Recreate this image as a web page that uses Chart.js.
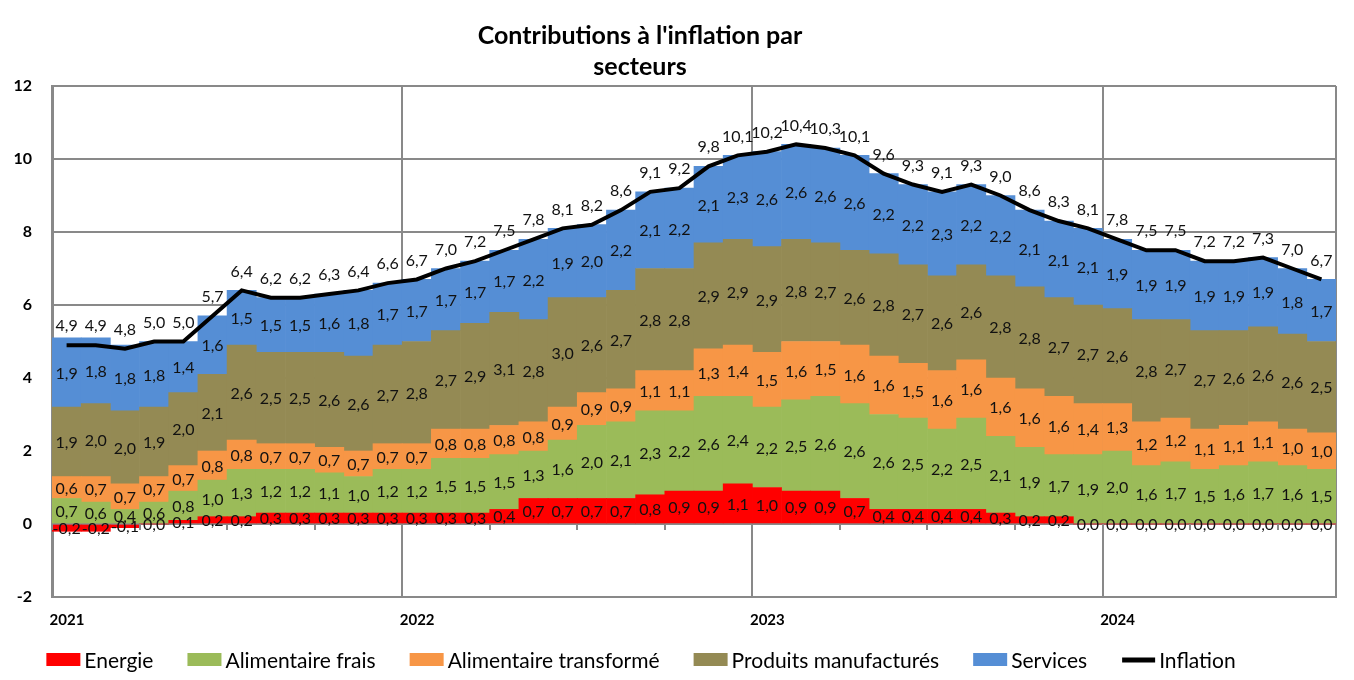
<!DOCTYPE html>
<html><head><meta charset="utf-8">
<script src="https://cdn.jsdelivr.net/npm/chart.js@4.4.1/dist/chart.umd.min.js"></script>
<style>html,body{margin:0;padding:0;background:#fff}#wrap{width:1354px;height:680px;position:relative}</style>
</head><body><div id="wrap"><canvas id="c" width="1354" height="680"></canvas></div>
<script>
const months = [
 '2021-01','2021-02','2021-03','2021-04','2021-05','2021-06','2021-07','2021-08','2021-09','2021-10','2021-11','2021-12',
 '2022-01','2022-02','2022-03','2022-04','2022-05','2022-06','2022-07','2022-08','2022-09','2022-10','2022-11','2022-12',
 '2023-01','2023-02','2023-03','2023-04','2023-05','2023-06','2023-07','2023-08','2023-09','2023-10','2023-11','2023-12',
 '2024-01','2024-02','2024-03','2024-04','2024-05','2024-06','2024-07','2024-08'];
const energie = [-0.2,-0.2,-0.1,0.0,0.1,0.2,0.2,0.3,0.3,0.3,0.3,0.3,
 0.3,0.3,0.3,0.4,0.7,0.7,0.7,0.7,0.8,0.9,0.9,1.1,
 1.0,0.9,0.9,0.7,0.4,0.4,0.4,0.4,0.3,0.2,0.2,0.0,
 0.0,0.0,0.0,0.0,0.0,0.0,0.0,0.0];
const alimFrais = [0.7,0.6,0.4,0.6,0.8,1.0,1.3,1.2,1.2,1.1,1.0,1.2,
 1.2,1.5,1.5,1.5,1.3,1.6,2.0,2.1,2.3,2.2,2.6,2.4,
 2.2,2.5,2.6,2.6,2.6,2.5,2.2,2.5,2.1,1.9,1.7,1.9,
 2.0,1.6,1.7,1.5,1.6,1.7,1.6,1.5];
const alimTransf = [0.6,0.7,0.7,0.7,0.7,0.8,0.8,0.7,0.7,0.7,0.7,0.7,
 0.7,0.8,0.8,0.8,0.8,0.9,0.9,0.9,1.1,1.1,1.3,1.4,
 1.5,1.6,1.5,1.6,1.6,1.5,1.6,1.6,1.6,1.6,1.6,1.4,
 1.3,1.2,1.2,1.1,1.1,1.1,1.0,1.0];
const produitsManuf = [1.9,2.0,2.0,1.9,2.0,2.1,2.6,2.5,2.5,2.6,2.6,2.7,
 2.8,2.7,2.9,3.1,2.8,3.0,2.6,2.7,2.8,2.8,2.9,2.9,
 2.9,2.8,2.7,2.6,2.8,2.7,2.6,2.6,2.8,2.8,2.7,2.7,
 2.6,2.8,2.7,2.7,2.6,2.6,2.6,2.5];
const services = [1.9,1.8,1.8,1.8,1.4,1.6,1.5,1.5,1.5,1.6,1.8,1.7,
 1.7,1.7,1.7,1.7,2.2,1.9,2.0,2.2,2.1,2.2,2.1,2.3,
 2.6,2.6,2.6,2.6,2.2,2.2,2.3,2.2,2.2,2.1,2.1,2.1,
 1.9,1.9,1.9,1.9,1.9,1.9,1.8,1.7];
const inflation = [4.9,4.9,4.8,5.0,5.0,5.7,6.4,6.2,6.2,6.3,6.4,6.6,
 6.7,7.0,7.2,7.5,7.8,8.1,8.2,8.6,9.1,9.2,9.8,10.1,
 10.2,10.4,10.3,10.1,9.6,9.3,9.1,9.3,9.0,8.6,8.3,8.1,
 7.8,7.5,7.5,7.2,7.2,7.3,7.0,6.7];
const yTicks = [-2,0,2,4,6,8,10,12];
const titleLines = ["Contributions à l'inflation par", "secteurs"];

const GRID = '#898989';
const FONT = 'Lato, "Open Sans", sans-serif';
const fmt = v => v.toFixed(1).replace('.', ',');

const labelsPlugin = {
  id: 'valueLabels',
  afterDatasetsDraw(chart) {
    const ctx = chart.ctx;
    ctx.save();
    ctx.font = '16px ' + FONT;
    ctx.fillStyle = '#111';
    ctx.textAlign = 'center';
    ctx.textBaseline = 'middle';
    chart.data.datasets.forEach((ds, di) => {
      const meta = chart.getDatasetMeta(di);
      meta.data.forEach((el, i) => {
        const v = ds.data[i];
        if (ds.type === 'line') {
          ctx.fillText(fmt(v), el.x, el.y - 19);
        } else {
          ctx.fillText(fmt(v), el.x, (el.y + el.base) / 2 + 1);
        }
      });
    });
    ctx.restore();
  }
};

const decoPlugin = {
  id: 'deco',
  afterDraw(chart) {
    const ctx = chart.ctx;
    const xs = chart.scales.x, ys = chart.scales.y;
    const n = chart.data.labels.length;
    const step = xs.width / n;
    const y0 = ys.getPixelForValue(0);
    ctx.save();
    // quarterly tick marks on the zero axis
    ctx.strokeStyle = GRID; ctx.lineWidth = 2;
    for (let i = 0; i <= n; i += 3) {
      const x = Math.round(xs.left + i * step);
      ctx.beginPath(); ctx.moveTo(x, y0); ctx.lineTo(x, y0 + 6); ctx.stroke();
    }
    // title
    ctx.fillStyle = '#000';
    ctx.textAlign = 'center'; ctx.textBaseline = 'middle';
    ctx.font = 'bold 25px ' + FONT;
    ctx.fillText(titleLines[0], 640, 36);
    ctx.fillText(titleLines[1], 640, 67);
    // legend
    ctx.font = '21px ' + FONT;
    const items = chart.data.datasets.slice().sort((a,b)=>a.legendIndex-b.legendIndex);
    const boxW = 34, gapIn = 4, gapOut = 34;
    let total = 0;
    items.forEach((d, k) => { total += boxW + gapIn + ctx.measureText(d.label).width + (k < items.length-1 ? gapOut : 0); });
    let x = 641 - total / 2;
    const ly = 660;
    ctx.textAlign = 'left';
    items.forEach(d => {
      if (d.type === 'line') {
        ctx.strokeStyle = '#000'; ctx.lineWidth = 5;
        ctx.beginPath(); ctx.moveTo(x + 1, ly); ctx.lineTo(x + boxW, ly); ctx.stroke();
      } else {
        ctx.fillStyle = d.backgroundColor;
        ctx.fillRect(x, ly - 7, boxW, 13);
      }
      x += boxW + gapIn;
      ctx.fillStyle = '#000';
      ctx.fillText(d.label, x, ly + 1);
      x += ctx.measureText(d.label).width + gapOut;
    });
    ctx.restore();
  }
};

const barDs = (label, data, color, li) => ({
  type: 'bar', label, data, backgroundColor: color, borderWidth: 0,
  barPercentage: 1, categoryPercentage: 1, stack: 's', order: 1, legendIndex: li
});

new Chart(document.getElementById('c'), {
  data: {
    labels: months,
    datasets: [
      barDs('Energie', energie, '#FF0000', 0),
      barDs('Alimentaire frais', alimFrais, '#9BBB59', 1),
      barDs('Alimentaire transformé', alimTransf, '#F79646', 2),
      barDs('Produits manufacturés', produitsManuf, '#948A54', 3),
      barDs('Services', services, '#558ED5', 4),
      { type: 'line', label: 'Inflation', data: inflation, borderColor: '#000', borderWidth: 4,
        pointRadius: 0, tension: 0, fill: false, order: 0, legendIndex: 5 }
    ]
  },
  options: {
    responsive: false, devicePixelRatio: 1, animation: false,
    layout: { padding: { left: 0, right: 18, top: 86, bottom: 43 } },
    plugins: { legend: { display: false }, tooltip: { enabled: false }, title: { display: false } },
    scales: {
      x: {
        stacked: true, offset: true,
        grid: { offset: true, drawTicks: false, lineWidth: 2,
          color: c => (c.index === undefined || c.index % 12 === 0) ? GRID : 'rgba(0,0,0,0)' },
        border: { display: true, color: GRID, width: 2 },
        ticks: { autoSkip: false, maxRotation: 0, align: 'start', labelOffset: -17, padding: 14,
          color: '#000', font: { family: FONT, size: 15, weight: 'bold' },
          callback: (v, i) => months[i].endsWith('-01') ? months[i].slice(0, 4) : '' },
        afterFit: s => { s.height = 40; }
      },
      y: {
        stacked: true, min: -2, max: 12,
        afterBuildTicks: s => { s.ticks = yTicks.map(v => ({ value: v })); },
        grid: { drawTicks: false, color: GRID, lineWidth: 2 },
        border: { display: true, color: GRID, width: 3 },
        ticks: { padding: 20, color: '#000', font: { family: FONT, size: 16, weight: 'bold' } },
        afterFit: s => { s.width = 52; }
      }
    }
  },
  plugins: [labelsPlugin, decoPlugin]
});
</script></body></html>
